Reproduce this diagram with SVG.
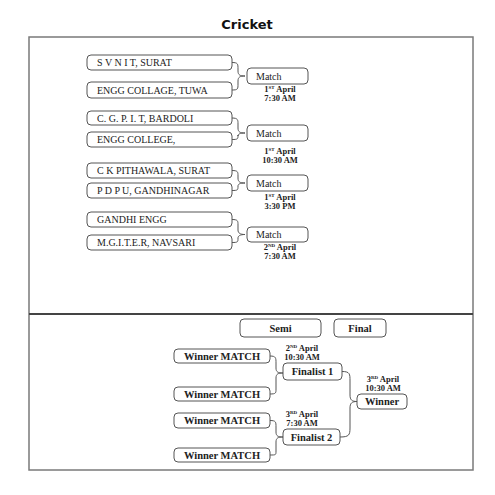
<svg xmlns="http://www.w3.org/2000/svg" width="495" height="495" viewBox="0 0 495 495">
<style>
.frame{fill:none;stroke:#7a7a7a;stroke-width:1.5}
.div{stroke:#444;stroke-width:2}
.box{fill:#fff;stroke:#555;stroke-width:1}
.t{font-family:"Liberation Serif","Times New Roman",serif;font-size:10px;fill:#222}
.b{font-family:"Liberation Serif","Times New Roman",serif;font-size:10.5px;font-weight:bold;fill:#222}
.d{font-family:"Liberation Serif","Times New Roman",serif;font-size:8.5px;font-weight:bold;fill:#222;text-anchor:middle}
.sup{font-size:5px}
.c{fill:none;stroke:#555;stroke-width:1}
.title{font-family:"DejaVu Sans",Verdana,sans-serif;font-size:13px;font-weight:bold;fill:#111;text-anchor:middle}
</style>
<rect width="495" height="495" fill="#fff"/>
<text class="title" x="247" y="29">Cricket</text>
<rect class="frame" x="29" y="37" width="444" height="433"/>
<line class="div" x1="29" y1="314" x2="473" y2="314"/>

<g id="connectors">
<path class="c" d="M232,62.5 C238,62.5 238,64 238,69 L238,71 C238,75 240,76 245,76 C240,76 238,77 238,81 L238,84 C238,89 238,90 232,90"/>
<path class="c" d="M232,118 C238,118 238,120 238,124 L238,128 C238,132 240,133 245,133 C240,133 238,134 238,136 L238,135 C238,139 238,139.5 232,139.5"/>
<path class="c" d="M232,170.5 C238,170.5 238,172 238,176 L238,178 C238,182 240,183 245,183 C240,183 238,184 238,186 L238,186 C238,190 238,190.5 232,190.5"/>
<path class="c" d="M232,219.5 C238,219.5 238,221 238,225 L238,230 C238,233 240,234.5 245,234.5 C240,234.5 238,236 238,238 L238,238 C238,242 238,242.5 232,242.5"/>
<path class="c" d="M270,356 C276,356 276,358 276,363 L276,368 C276,372 278,373 283,373 C278,373 276,374 276,378 L276,389 C276,393 276,394 270,394"/>
<path class="c" d="M270,420.5 C276,420.5 276,422 276,427 L276,432 C276,436 278,437 283,437 C278,437 276,438 276,442 L276,451 C276,455 276,455 270,455"/>
<path class="c" d="M342,371.5 C350,371.5 350,374 350,381 L350,395 C350,400 352,401.5 357,401.5 C352,401.5 350,403 350,408 L350,428 C350,435 349,437 340,437"/>
</g>

<g id="team1"><rect class="box" x="87" y="55" width="145" height="15" rx="4"/><text class="t" x="97" y="66">S V N I T, SURAT</text></g>
<g id="team2"><rect class="box" x="87" y="82" width="145" height="16" rx="4"/><text class="t" x="97" y="94">ENGG COLLAGE, TUWA</text></g>
<g id="match1"><rect class="box" x="247" y="68" width="61" height="16" rx="4"/><text class="t" x="256" y="80">Match</text>
<text class="d" x="280" y="92">1<tspan class="sup" dy="-3">ST</tspan><tspan dy="3"> April</tspan></text><text class="d" x="280" y="101">7:30 AM</text></g>

<g id="team3"><rect class="box" x="87" y="111" width="145" height="14" rx="4"/><text class="t" x="97" y="122">C. G. P. I. T, BARDOLI</text></g>
<g id="team4"><rect class="box" x="87" y="132" width="145" height="15" rx="4"/><text class="t" x="97" y="143">ENGG COLLEGE,</text></g>
<g id="match2"><rect class="box" x="247" y="125" width="61" height="16" rx="4"/><text class="t" x="256" y="137">Match</text>
<text class="d" x="280" y="154">1<tspan class="sup" dy="-3">ST</tspan><tspan dy="3"> April</tspan></text><text class="d" x="280" y="163">10:30 AM</text></g>

<g id="team5"><rect class="box" x="87" y="163" width="145" height="15" rx="4"/><text class="t" x="97" y="174">C K PITHAWALA, SURAT</text></g>
<g id="team6"><rect class="box" x="87" y="183" width="145" height="15" rx="4"/><text class="t" x="97" y="194">P D P U, GANDHINAGAR</text></g>
<g id="match3"><rect class="box" x="247" y="175" width="61" height="16" rx="4"/><text class="t" x="256" y="187">Match</text>
<text class="d" x="280" y="200">1<tspan class="sup" dy="-3">ST</tspan><tspan dy="3"> April</tspan></text><text class="d" x="280" y="209">3:30 PM</text></g>

<g id="team7"><rect class="box" x="87" y="212" width="145" height="15" rx="4"/><text class="t" x="97" y="223">GANDHI ENGG</text></g>
<g id="team8"><rect class="box" x="87" y="235" width="145" height="15" rx="4"/><text class="t" x="97" y="246">M.G.I.T.E.R, NAVSARI</text></g>
<g id="match4"><rect class="box" x="247" y="227" width="61" height="15" rx="4"/><text class="t" x="256" y="238">Match</text>
<text class="d" x="280" y="250">2<tspan class="sup" dy="-3">ND</tspan><tspan dy="3"> April</tspan></text><text class="d" x="280" y="259">7:30 AM</text></g>

<g id="semi"><rect class="box" x="240" y="319" width="81" height="18" rx="4"/><text class="b" x="280.5" y="332" text-anchor="middle" font-size="11">Semi</text></g>
<g id="final"><rect class="box" x="334" y="319" width="52" height="18" rx="4"/><text class="b" x="360" y="332" text-anchor="middle" font-size="11">Final</text></g>

<g id="wm1"><rect class="box" x="174" y="349" width="96" height="14" rx="4"/><text class="b" x="222" y="360" text-anchor="middle">Winner MATCH</text></g>
<g id="wm2"><rect class="box" x="174" y="387" width="96" height="14" rx="4"/><text class="b" x="222" y="398" text-anchor="middle">Winner MATCH</text></g>
<g id="finalist1"><rect class="box" x="283" y="363" width="59" height="17" rx="4"/><text class="b" x="312.5" y="375" text-anchor="middle">Finalist 1</text>
<text class="d" x="302" y="351">2<tspan class="sup" dy="-3">ND</tspan><tspan dy="3"> April</tspan></text><text class="d" x="302" y="360">10:30 AM</text></g>

<g id="wm3"><rect class="box" x="174" y="413" width="96" height="15" rx="4"/><text class="b" x="222" y="424" text-anchor="middle">Winner MATCH</text></g>
<g id="wm4"><rect class="box" x="174" y="448" width="96" height="14" rx="4"/><text class="b" x="222" y="459" text-anchor="middle">Winner MATCH</text></g>
<g id="finalist2"><rect class="box" x="283" y="429" width="57" height="16" rx="4"/><text class="b" x="311.5" y="441" text-anchor="middle">Finalist 2</text>
<text class="d" x="302" y="417">3<tspan class="sup" dy="-3">RD</tspan><tspan dy="3"> April</tspan></text><text class="d" x="302" y="426">7:30 AM</text></g>

<g id="winner"><rect class="box" x="357" y="394" width="50" height="15" rx="4"/><text class="b" x="382" y="405" text-anchor="middle">Winner</text>
<text class="d" x="383" y="382">3<tspan class="sup" dy="-3">RD</tspan><tspan dy="3"> April</tspan></text><text class="d" x="383" y="391">10:30 AM</text></g>
</svg>
